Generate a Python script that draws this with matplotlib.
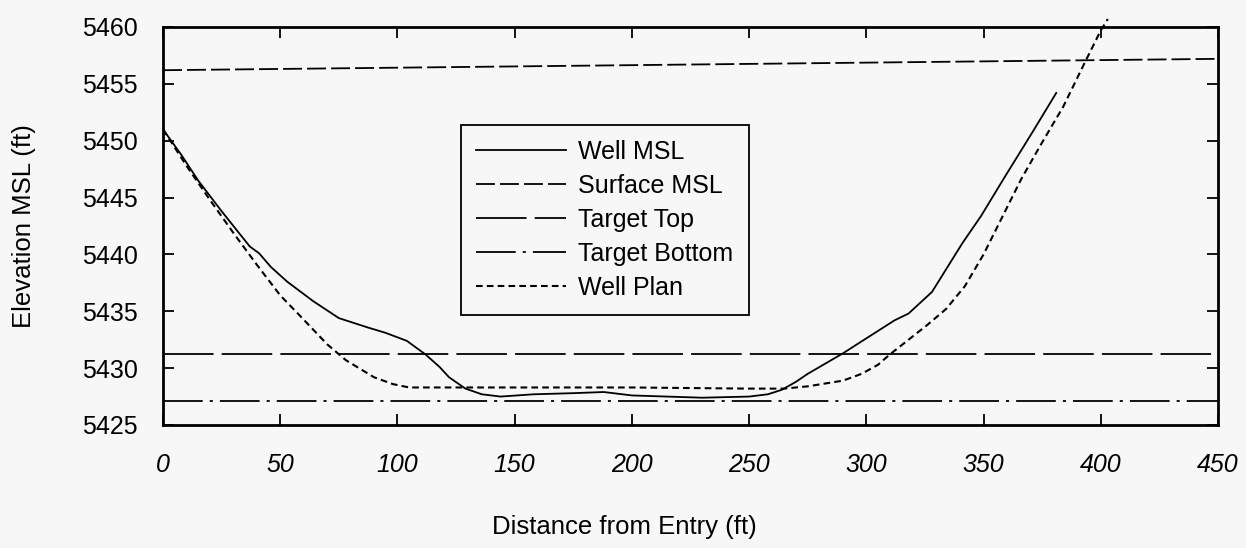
import matplotlib
matplotlib.use('Agg')
import matplotlib.pyplot as plt

plt.rcParams['font.family'] = ['Liberation Sans', 'DejaVu Sans']

# --- data ---
well_x = [0, 8, 15, 25, 37, 41, 46, 53, 64, 75, 87, 95, 104, 112, 118, 122, 129,
          136, 144, 158, 175, 188, 200, 215, 230, 250, 258, 264, 270, 275, 290,
          312, 318, 328, 341, 349, 359, 371, 381]
well_y = [5451.0, 5448.7, 5446.5, 5443.8, 5440.7, 5440.1, 5438.9, 5437.6, 5435.9,
          5434.4, 5433.6, 5433.1, 5432.4, 5431.2, 5430.1, 5429.2, 5428.2, 5427.7,
          5427.5, 5427.7, 5427.8, 5427.9, 5427.6, 5427.5, 5427.4, 5427.5, 5427.7,
          5428.1, 5428.8, 5429.5, 5431.3, 5434.2, 5434.8, 5436.7, 5441.0, 5443.4,
          5446.8, 5450.8, 5454.2]

plan_x = [0, 10, 20, 30, 40, 50, 58, 70, 78, 90, 98, 105, 110, 150, 200, 250, 265,
          275, 290, 298, 305, 310, 318, 326, 334, 342, 350, 358, 366, 374, 384,
          393, 400, 403]
plan_y = [5451.0, 5447.8, 5444.8, 5441.9, 5439.1, 5436.4, 5434.7, 5432.1, 5430.7,
          5429.2, 5428.6, 5428.3, 5428.3, 5428.3, 5428.3, 5428.2, 5428.2, 5428.4,
          5428.9, 5429.5, 5430.3, 5431.2, 5432.5, 5433.8, 5435.2, 5437.2, 5440.0,
          5443.3, 5446.6, 5449.5, 5453.0, 5456.8, 5459.7, 5460.7]

surf_x = [0, 450]
surf_y = [5456.2, 5457.2]
top_x = [0, 450]
top_y = [5431.2, 5431.2]
bot_x = [0, 450]
bot_y = [5427.1, 5427.1]

bg = '#f7f7f7'
fig = plt.figure(figsize=(12.46, 5.48), dpi=100, facecolor=bg)
ax = fig.add_axes([163 / 1246, 1 - 425 / 548, 1055 / 1246, 398 / 548], facecolor=bg)

lw = 1.3
ax.plot(well_x, well_y, color='black', lw=lw, label='Well MSL')
ax.plot(surf_x, surf_y, color='black', lw=lw, ls=(0, (10.5, 2.8)), label='Surface MSL')
ax.plot(top_x, top_y, color='black', lw=lw, ls=(0, (28, 4.5)), label='Target Top')
ax.plot(bot_x, bot_y, color='black', lw=lw, ls=(0, (22, 3.9, 1.7, 3.9)),
        label='Target Bottom')
ax.plot(plan_x, plan_y, color='black', lw=1.5, ls=(0, (3.2, 2.0)), label='Well Plan',
        clip_on=False)

ax.set_xlim(0, 450)
ax.set_ylim(5425, 5460)
ax.set_xticks(range(0, 451, 50))
ax.set_yticks(range(5425, 5461, 5))

for s in ax.spines.values():
    s.set_linewidth(2)
ax.tick_params(direction='in', length=8, width=1.3, top=True, right=True,
               labelsize=18)
ax.tick_params(axis='y', pad=18)
ax.tick_params(axis='x', pad=20)
for t in ax.get_xticklabels():
    t.set_style('italic')

fig.text(624 / 1246, 1 - 527 / 548, 'Distance from Entry (ft)', fontsize=18.5,
         ha='center', va='center')
fig.text(24 / 1246, 1 - 226 / 548, 'Elevation MSL (ft)', fontsize=18.5,
         rotation=90, ha='center', va='center')

leg = ax.legend(loc='upper left', bbox_to_anchor=(461 / 1246, 1 - 125 / 548),
                bbox_transform=fig.transFigure, fontsize=18, frameon=True,
                fancybox=False, borderaxespad=0, handlelength=3.6,
                handletextpad=0.5, labelspacing=0.4, borderpad=0.6,
                facecolor=bg, framealpha=1)
leg.get_frame().set_edgecolor('black')
leg.get_frame().set_linewidth(1.3)

fig.savefig('out.png', dpi=100, facecolor=bg)
